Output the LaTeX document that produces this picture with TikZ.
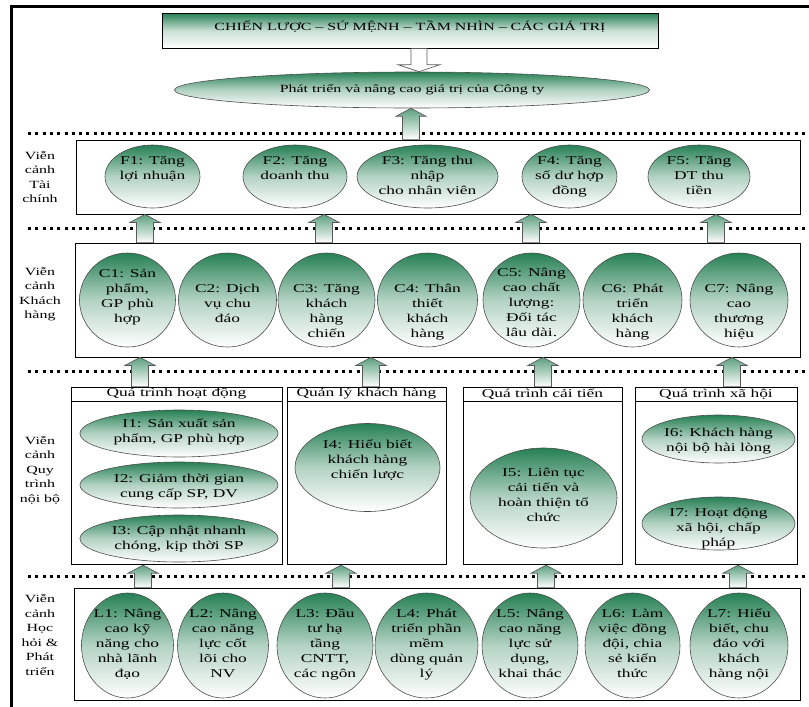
\documentclass[tikz,border=0pt]{standalone}
\usepackage{fontspec}
\setmainfont{Liberation Serif}[FakeStretch=1.45]
\usepackage{xcolor}
\usepackage{tikz}
\usetikzlibrary{shapes.geometric, calc, positioning}

\definecolor{ellgreen}{RGB}{38,128,84}

% text of an oval: first baseline raised by #1 above the centre
\newcommand{\etext}[2]{\raisebox{#1}[0pt][0pt]{\makebox[0pt]{\begin{tabular}[t]{@{}c@{}}#2\end{tabular}}}}

% hollow block arrow pointing up: x, lower node, upper node
\newcommand{\upblock}[3]{%
  \draw[blockarrow] (#1,0 |- #3.south) -- ++(15pt,-8pt) -- ++(-6.5pt,0pt)
    -- ($(#1,0 |- #2.north)+(8.5pt,0pt)$) -- ($(#1,0 |- #2.north)+(-8.5pt,0pt)$)
    -- ($(#1,0 |- #3.south)+(-8.5pt,-8pt)$) -- ++(-6.5pt,0pt) -- cycle;}

% hollow block arrow pointing down: x, upper node, lower node
\newcommand{\downblock}[3]{%
  \draw[blockarrow, top color=white, bottom color=white] (#1,0 |- #3.north) -- ++(21pt,7pt) -- ++(-13pt,0pt)
    -- ($(#1,0 |- #2.south)+(8pt,0pt)$) -- ($(#1,0 |- #2.south)+(-8pt,0pt)$)
    -- ($(#1,0 |- #3.north)+(-8pt,7pt)$) -- ++(-13pt,0pt) -- cycle;}

\begin{document}
\begin{tikzpicture}[
    x=1pt, y=-1pt,
    greenfade/.style={top color=ellgreen, bottom color=white, middle color=ellgreen!35},
    oval/.style 2 args={ellipse, draw=black!70, line width=0.6pt, inner sep=0pt,
                minimum width=#1pt, minimum height=#2pt, greenfade,
                font=\fontsize{12}{15}\selectfont},
    layerbox/.style={rectangle, draw, line width=0.8pt, inner sep=0pt},
    headbox/.style={layerbox, minimum height=14pt, font=\fontsize{12}{14}\selectfont},
    sidelabel/.style={align=center, inner sep=0pt, font=\fontsize{11}{14.5}\selectfont},
    sepline/.style={line width=3pt, dash pattern=on 3pt off 4.3pt},
    blockarrow/.style={draw=black!65, line width=0.7pt, top color=ellgreen!75, bottom color=white}
]
\useasboundingbox (0,0) rectangle (809,707);

% frame
\draw[line width=3pt] (11,707) -- (11,6) -- (809,6);

% top
\node[layerbox, minimum width=496pt, minimum height=35pt, text height=8pt, text depth=8pt,
      top color=ellgreen, bottom color=white, middle color=white!75!ellgreen,
      font=\fontsize{11}{13}\selectfont] (topbox) at (410,30.5)
      {CHIẾN LƯỢC – SỨ MỆNH – TẦM NHÌN – CÁC GIÁ TRỊ};
\node[oval={475}{36}, font=\fontsize{11}{13}\selectfont] (goal) at (412,90)
      {Phát triển và nâng cao giá trị của Công ty};

% layer boxes
\node[layerbox, minimum width=724pt, minimum height=74pt] (fbox) at (438,177) {};
\node[layerbox, minimum width=725pt, minimum height=114pt] (cbox) at (437.5,300) {};
\node[layerbox, minimum width=726pt, minimum height=112pt] (lbox) at (437,644) {};

\node[headbox, minimum width=211pt] (h1) at (176.5,394) {Quá trình hoạt động};
\node[headbox, minimum width=159pt] (h2) at (366.5,394) {Quản lý khách hàng};
\node[headbox, minimum width=159pt] (h3) at (542.5,394) {Quá trình cải tiến};
\node[headbox, minimum width=162pt] (h4) at (716,394) {Quá trình xã hội};
\node[layerbox, minimum width=211pt, minimum height=163pt, below=0pt of h1] (p1) {};
\node[layerbox, minimum width=159pt, minimum height=163pt, below=0pt of h2] (p2) {};
\node[layerbox, minimum width=159pt, minimum height=163pt, below=0pt of h3] (p3) {};
\node[layerbox, minimum width=162pt, minimum height=163pt, below=0pt of h4] (p4) {};

% side labels
\node[sidelabel] (lf) at (40,177) {Viễn\\cảnh\\Tài\\chính};
\node[sidelabel] (lc) at (40,294) {Viễn\\cảnh\\Khách\\hàng};
\node[sidelabel] (li) at (40,470) {Viễn\\cảnh\\Quy\\trình\\nội bộ};
\node[sidelabel] (ll) at (40,635) {Viễn\\cảnh\\Học\\hỏi \&\\Phát\\triển};

% financial
\node[oval={95}{63}]  (f1) at (152.5,176.5) {\etext{12.5pt}{F1: Tăng\\lợi nhuận}};
\node[oval={104}{63}] (f2) at (295,176.5)   {\etext{12.5pt}{F2: Tăng\\doanh thu}};
\node[oval={141}{63}] (f3) at (427.5,176.5) {\etext{12.5pt}{F3: Tăng thu\\nhập\\cho nhân viên}};
\node[oval={95}{63}]  (f4) at (569.5,176.5) {\etext{12.5pt}{F4: Tăng\\số dư hợp\\đồng}};
\node[oval={102}{63}] (f5) at (699,176.5)   {\etext{12.5pt}{F5: Tăng\\DT thu\\tiền}};

% customer
\node[oval={96}{94}] (c1) at (127.5,300) {\etext{23pt}{C1: Sản\\phẩm,\\GP phù\\hợp}};
\node[oval={98}{94}] (c2) at (227.5,300) {\etext{8pt}{C2: Dịch\\vụ chu\\đáo}};
\node[oval={97}{94}] (c3) at (326.5,300) {\etext{8pt}{C3: Tăng\\khách\\hàng\\chiến}};
\node[oval={100}{94}] (c4) at (427.5,300) {\etext{8pt}{C4: Thân\\thiết\\khách\\hàng}};
\node[oval={97}{94}] (c5) at (531.5,300) {\etext{24pt}{C5: Nâng\\cao chất\\lượng:\\Đối tác\\lâu dài.}};
\node[oval={99}{94}] (c6) at (632.5,300) {\etext{8pt}{C6: Phát\\triển\\khách\\hàng}};
\node[oval={98}{94}] (c7) at (739,300)   {\etext{8pt}{C7: Nâng\\cao\\thương\\hiệu}};

% internal
\node[oval={198}{47}] (i1) at (179,433.5) {\etext{6pt}{I1: Sản xuất sản\\phẩm, GP phù hợp}};
\node[oval={198}{46}] (i2) at (179,485)   {\etext{3pt}{I2: Giảm thời gian\\cung cấp SP, DV}};
\node[oval={198}{47}] (i3) at (179,538.5) {\etext{4.5pt}{I3: Cập nhật nhanh\\chóng, kịp thời SP}};
\node[oval={145}{88}] (i4) at (367.5,467.5) {\etext{19pt}{I4: Hiểu biết\\khách hàng\\chiến lược}};
\node[oval={147}{100}] (i5) at (543.5,498) {\etext{22pt}{I5: Liên tục\\cải tiến và\\hoàn thiện tổ\\chức}};
\node[oval={153}{48}] (i6) at (718.5,439)   {\etext{3pt}{I6: Khách hàng\\nội bộ hài lòng}};
\node[oval={153}{53}] (i7) at (718.5,523.5) {\etext{7pt}{I7: Hoạt động\\xã hội, chấp\\pháp}};

% learning
\node[oval={92}{105}]  (l1) at (127.5,645.5) {\etext{28.5pt}{L1: Nâng\\cao kỹ\\năng cho\\nhà lãnh\\đạo}};
\node[oval={91}{105}]  (l2) at (223,645.5)   {\etext{28.5pt}{L2: Nâng\\cao năng\\lực cốt\\lõi cho\\NV}};
\node[oval={96}{105}]  (l3) at (325,645.5)   {\etext{28.5pt}{L3: Đầu\\tư hạ\\tầng\\CNTT,\\các ngôn}};
\node[oval={103}{105}] (l4) at (426.5,645.5) {\etext{28.5pt}{L4: Phát\\triển phần\\mềm\\dùng quản\\lý}};
\node[oval={96}{105}]  (l5) at (530,645.5)   {\etext{28.5pt}{L5: Nâng\\cao năng\\lực sử\\dụng,\\khai thác}};
\node[oval={95}{105}]  (l6) at (632.5,645.5) {\etext{28.5pt}{L6: Làm\\việc đồng\\đội, chia\\sẻ kiến\\thức}};
\node[oval={98}{105}]  (l7) at (739,645.5)   {\etext{28.5pt}{L7: Hiểu\\biết, chu\\đáo với\\khách\\hàng nội}};

% separators
\foreach \yy in {133,228.5,371.5,576}
    \draw[sepline] (28,\yy) -- (805,\yy);

% arrows
\downblock{419}{topbox}{goal}
\upblock{411}{fbox}{goal}
\foreach \x in {145,324,531,716}
    \upblock{\x}{cbox}{fbox};
\foreach \x/\hd in {140/h1, 371/h2, 543/h3, 732/h4}
    \upblock{\x}{\hd}{cbox};
\foreach \x/\bd in {143/p1, 341/p2, 546/p3, 738/p4}
    \upblock{\x}{lbox}{\bd};
\end{tikzpicture}
\end{document}
